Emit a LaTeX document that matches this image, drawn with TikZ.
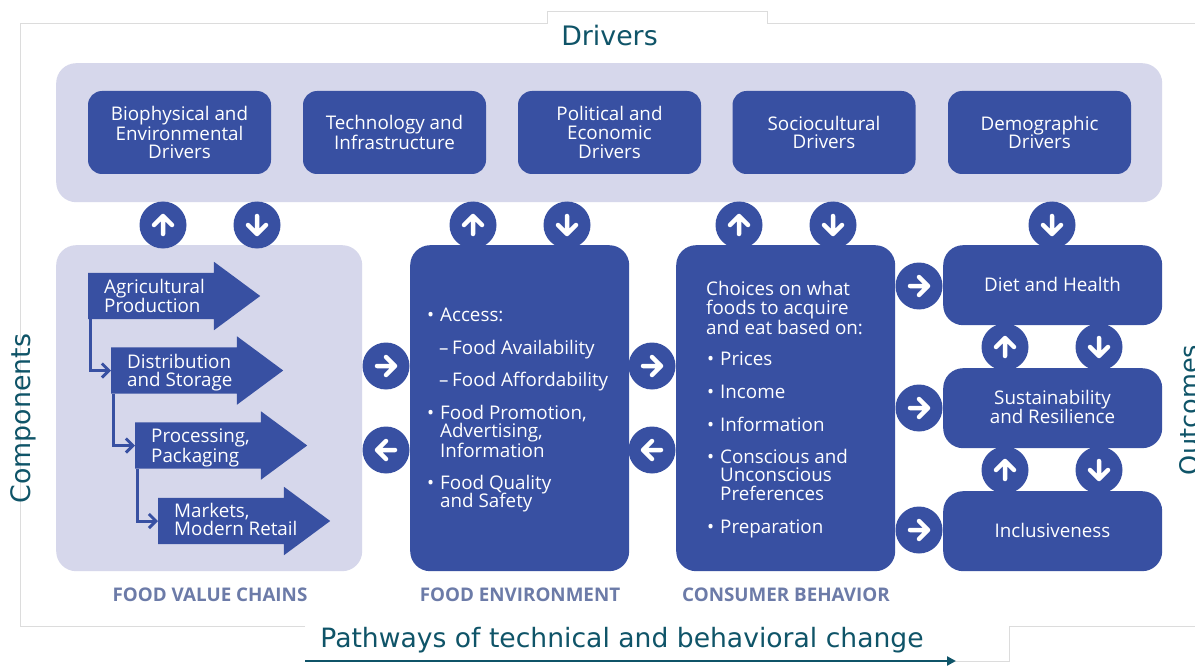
\documentclass[tikz,border=0pt]{standalone}
\usepackage{fontspec}
\setmainfont{Open Sans}
\newfontfamily\titlefont{DejaVu Sans}
\usetikzlibrary{shapes.arrows,arrows.meta,calc}
\definecolor{blueb}{HTML}{3850A2}
\definecolor{lilac}{HTML}{D6D7EB}
\definecolor{teal}{HTML}{0F5468}
\definecolor{capt}{HTML}{6C7BA8}
\definecolor{frame}{HTML}{DCDCDC}
\newcommand{\fs}[1]{\fontsize{#1}{18.6}\selectfont}
\newcommand{\bul}{\makebox[14pt][l]{\hspace{1pt}•}}
\newcommand{\dsh}{\makebox[13pt][l]{–}}
\tikzset{
  x=1pt,y=-1pt,
  panel/.style={fill=lilac,rounded corners=20pt,inner sep=0pt,anchor=north west},
  darkpanel/.style={fill=blueb,rounded corners=20pt,inner sep=0pt,anchor=north west},
  driver/.style={fill=blueb,rounded corners=14pt,inner sep=0pt,minimum width=183pt,minimum height=83pt,
    text=white,align=center,font=\fs{18.8}},
  outcome/.style={darkpanel,minimum width=219pt,minimum height=80pt},
  outcometext/.style={text=white,font=\fs{18.8},align=center,inner sep=0pt},
  circ/.style={circle,fill=blueb,inner sep=0pt,minimum size=47pt},
  glyph/.style={draw=white,line width=4.5pt,line cap=round,line join=round},
  blockarrow/.style={single arrow,fill=blueb,inner sep=0pt,anchor=tail,minimum height=172pt,minimum width=68pt,
    single arrow head extend=11pt,single arrow tip angle=73},
  arrowtext/.style={text=white,align=left,anchor=west,font=\fs{18.8},inner sep=0pt},
  paneltext/.style={text=white,align=left,anchor=north west,font=\fs{18.8},inner sep=0pt},
  conn/.style={draw=blueb,line width=3pt,-{Straight Barb[length=7pt,width=14pt]}},
  caption/.style={text=capt,font=\fs{18.8}\bfseries,inner sep=0pt},
  title/.style={text=teal,inner sep=0pt},
  framing/.style={draw=frame,line width=1pt},
}
\newcommand{\circup}[2]{\node[circ] (#1) at (#2) {};
  \draw[glyph,shift={(#1.center)},rotate=90] (-9,0)--(8,0) (0,-9)--(9,0)--(0,9);}
\newcommand{\circdn}[2]{\node[circ] (#1) at (#2) {};
  \draw[glyph,shift={(#1.center)},rotate=-90] (-9,0)--(8,0) (0,-9)--(9,0)--(0,9);}
\newcommand{\circrt}[2]{\node[circ] (#1) at (#2) {};
  \draw[glyph,shift={(#1.center)}] (-9,0)--(8,0) (0,-9)--(9,0)--(0,9);}
\newcommand{\circlf}[2]{\node[circ] (#1) at (#2) {};
  \draw[glyph,shift={(#1.center)},rotate=180] (-9,0)--(8,0) (0,-9)--(9,0)--(0,9);}
\newcommand{\shaft}{\rule{0pt}{46pt}}
\begin{document}
\begin{tikzpicture}
\useasboundingbox (0,0) rectangle (1195,666);
\fill[white] (0,0) rectangle (1195,666);
% frame
\coordinate (f1) at (305,626); \coordinate (f2) at (20,626); \coordinate (f3) at (20,24);
\coordinate (f4) at (547,24); \coordinate (f5) at (547,12); \coordinate (f6) at (767,12);
\coordinate (f7) at (767,24); \coordinate (f8) at (1195,24);
\coordinate (f9) at (1195,626); \coordinate (f10) at (1009,626); \coordinate (f11) at (1009,661); \coordinate (f12) at (955,661);
\draw[framing] (f1)--(f2)--(f3)--(f4)--(f5)--(f6)--(f7)--(f8);
\draw[framing] (f9)--(f10)--(f11)--(f12);
% panels
\node[panel,minimum width=1106pt,minimum height=139pt] (band) at (56,63) {};
\node[panel,minimum width=306pt,minimum height=326pt] (fvc) at (56,245) {};
\node[darkpanel,minimum width=219pt,minimum height=326pt] (fe) at (410,245) {};
\node[darkpanel,minimum width=219pt,minimum height=326pt] (cb) at (676,245) {};
% drivers
\node[driver] (d1) at (179.5,132.5) {Biophysical and\\Environmental\\Drivers};
\node[driver] (d2) at (394.5,132.5) {Technology and\\Infrastructure};
\node[driver] (d3) at (609.5,132.5) {Political and\\Economic\\Drivers};
\node[driver] (d4) at (824,132.5) {Sociocultural\\Drivers};
\node[driver] (d5) at (1039.5,132.5) {Demographic\\Drivers};
% outcomes
\node[outcome] (o1) at (943,245) {};
\node[outcome] (o2) at (943,368) {};
\node[outcome] (o3) at (943,491) {};
\node[outcometext] (l1) at (1052.5,284) {Diet and Health};
\node[outcometext] (l2) at (1052.5,407) {Sustainability\\and Resilience};
\node[outcometext] (l3) at (1052.5,530) {Inclusiveness};
% circles
\circup{c1}{163,225} \circdn{c2}{257,225}
\circup{c3}{473,225} \circdn{c4}{567,225}
\circup{c5}{739,225} \circdn{c6}{833,225}
\circdn{c7}{1052,225}
\circrt{c8}{386,366} \circlf{c9}{386,450}
\circrt{c10}{652,366} \circlf{c11}{652,450}
\circrt{c12}{919,286} \circrt{c13}{919,408} \circrt{c14}{919,530}
\circup{c15}{1005,347} \circdn{c16}{1099,347}
\circup{c17}{1005,470} \circdn{c18}{1099,470}
% block arrows
\node[blockarrow] (a1) at (88,296) {\shaft};
\node[blockarrow] (a2) at (111,370.5) {\shaft};
\node[blockarrow] (a3) at (135,445.5) {\shaft};
\node[blockarrow] (a4) at (158,521) {\shaft};
\draw[conn] ($(a1.tail)+(2,23)$) |- (a2.tail);
\draw[conn] ($(a2.tail)+(2,23)$) |- (a3.tail);
\draw[conn] ($(a3.tail)+(2,23)$) |- (a4.tail);
\node[arrowtext] (t1) at (104,296) {Agricultural\\Production};
\node[arrowtext] (t2) at (127,372.5) {Distribution\\and Storage};
\node[arrowtext] (t3) at (151,447.5) {Processing,\\Packaging};
\node[arrowtext] (t4) at (174,519.5) {Markets,\\Modern Retail};
% food environment
\node[paneltext] (e1) at (426,308) {\bul Access:};
\node[paneltext] (e2) at (439,340) {\dsh Food Availability};
\node[paneltext] (e3) at (439,371.5) {\dsh Food Affordability};
\node[paneltext] (e4) at (426,405) {\bul Food Promotion,};
\node[paneltext] (e5) at (440,423.5) {Advertising,\\Information};
\node[paneltext] (e6) at (426,475) {\bul Food Quality};
\node[paneltext] (e7) at (440,493) {and Safety};
% consumer
\node[paneltext] (b0) at (706,281.5) {Choices on what\\foods to acquire\\and eat based on:};
\node[paneltext] (b1) at (706,351.5) {\bul Prices};
\node[paneltext] (b2) at (706,384.5) {\bul Income};
\node[paneltext] (b3) at (706,417) {\bul Information};
\node[paneltext] (b4) at (706,449.5) {\bul Conscious and};
\node[paneltext] (b5) at (720,468) {Unconscious\\Preferences};
\node[paneltext] (b6) at (706,519.5) {\bul Preparation};
% captions
\node[caption] (k1) at (210,594.5) {FOOD VALUE CHAINS};
\node[caption] (k2) at (520,594.5) {FOOD ENVIRONMENT};
\node[caption] (k3) at (786,594.5) {CONSUMER BEHAVIOR};
% titles
\node[title,font=\titlefont\fontsize{26.8}{30}\selectfont] (h1) at (609.5,36) {Drivers};
\node[title,font=\titlefont\fontsize{26.8}{30}\selectfont,rotate=90] (h2) at (23,418.5) {Components};
\node[title,font=\titlefont\fontsize{25.6}{30}\selectfont,rotate=90] (h3) at (1189,410) {Outcomes};
\node[title,font=\titlefont\fontsize{26.6}{30}\selectfont] (h4) at (622,640) {Pathways of technical and behavioral change};
\coordinate (p1) at (305,661); \coordinate (p2) at (956,661);
\draw[draw=teal,line width=2.5pt,-{Triangle[length=9pt,width=9pt]}] (p1)--(p2);
\end{tikzpicture}
\end{document}
